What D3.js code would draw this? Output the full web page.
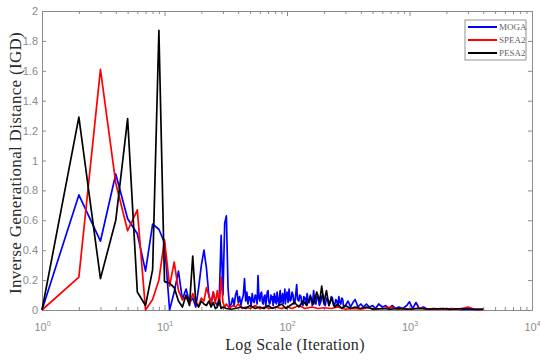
<!DOCTYPE html>
<html>
<head>
<meta charset="utf-8">
<script src="https://cdn.jsdelivr.net/npm/d3@7"></script>
<style>
body { margin: 0; background: #fff; }
svg { font-family: "Liberation Serif", "DejaVu Serif", serif; }
.axis path, .axis line { stroke: #8a8a8a; }
.axis text { fill: #8a8a8a; font-size: 11px; }
</style>
</head>
<body>
<svg id="chart" width="540" height="363"></svg>
<script>
// series names and legend colours
var seriesNames = ["MOGA", "SPEA2", "PESA2"];
var seriesColors = ["#0000ff", "#ff0000", "#000000"];

// [iteration, IGD]
var moga = [[1,0],[2,0.77],[3,0.46],[4,0.91],[5,0.61],[6,0.51],[7,0.26],[8,0.575],[9,0.54],[10,0.45],
 [11,0],[12,0.12],[13,0.26],[14,0.07],[15,0.14],[16,0.05],[17,0.08],[18,0.02],[19,0.15],[20,0.3],
 [21,0.4],[22,0.28],[23,0.1],[24,0.04],[25,0.12],[26,0.05],[27,0.03],[28,0.08],[29,0.5],[30,0.1],
 [31,0.58],[32,0.63],[33,0.15],[34,0.02],[35,0.04],[36,0.08],[37,0.03],[38,0.1],[39,0.13],[40,0.05],
 [41,0.09],[42,0.03],[43,0.07],[44,0.1],[45,0.21],[46,0.06],[47,0.12],[48,0.04],[49,0.09],[50,0.08],
 [51,0.03],[52,0.11],[53,0.06],[54,0.05],[55,0.1],[56,0.09],[57,0.04],[58,0.23],[59,0.08],[60,0.06],
 [61,0.11],[62,0.12],[63,0.05],[64,0.04],[65,0.09],[66,0.1],[67,0.03],[68,0.07],[69,0.12],[70,0.13],
 [71,0.06],[72,0.04],[73,0.05],[74,0.1],[75,0.07],[76,0.09],[77,0.03],[78,0.08],[79,0.11],[80,0.05],
 [81,0.09],[82,0.04],[83,0.12],[84,0.06],[85,0.08],[86,0.03],[87,0.1],[88,0.13],[89,0.05],[90,0.09],
 [91,0.06],[92,0.11],[93,0.04],[94,0.1],[95,0.07],[96,0.14],[97,0.04],[98,0.08],[99,0.1],[100,0.12],
 [102,0.05],[104,0.14],[106,0.06],[108,0.07],[110,0.12],[112,0.1],[114,0.04],[116,0.05],[118,0.11],[120,0.17],
 [122,0.07],[125,0.06],[127,0.1],[130,0.09],[132,0.04],[135,0.03],[137,0.09],[140,0.08],[143,0.04],[146,0.11],
 [149,0.06],[152,0.05],[155,0.1],[158,0.07],[161,0.03],[165,0.13],[168,0.06],[172,0.04],[176,0.09],[180,0.08],
 [184,0.03],[188,0.05],[192,0.09],[196,0.1],[200,0.04],[205,0.03],[210,0.08],[215,0.07],[220,0.03],[225,0.05],
 [230,0.09],[235,0.08],[240,0.03],[245,0.03],[250,0.07],[255,0.06],[260,0.02],[265,0.09],[270,0.05],[275,0.04],
 [280,0.08],[285,0.07],[290,0.02],[300,0.03],[315,0.06],[330,0.02],[345,0.05],[360,0.07],
 [380,0.02],[400,0.04],[420,0.02],[445,0.04],[470,0.02],[500,0.03],[530,0.01],[560,0.04],[600,0.02],[640,0.03],
 [680,0.01],[720,0.03],[770,0.01],[820,0.02],[880,0.01],[950,0.03],[1000,0.055],[1060,0.01],[1130,0.05],[1200,0.01],
 [1300,0.02],[1400,0.005],[1550,0.01],[1700,0.005],[1900,0.01],[2100,0.004],[2400,0.008],[2700,0.003],[3000,0.006],[3500,0.003],[4000,0.004]];

var spea2 = [[1,0],[2,0.22],[3,1.61],[4,0.85],[5,0.53],[6,0.67],[7,0],[8,0.07],[9,0.2],[10,0.47],
 [11,0.16],[12,0.32],[13,0.13],[14,0.07],[15,0.09],[16,0.04],[17,0.11],[18,0.05],[19,0.03],[20,0.08],
 [21,0.06],[22,0.15],[23,0.1],[24,0.04],[25,0.12],[26,0.05],[27,0.13],[28,0.03],[29,0.22],[30,0.05],
 [31,0.02],[32,0.04],[34,0.01],[36,0.03],[38,0.02],[40,0.04],[43,0.01],[46,0.02],[50,0.01],[55,0.03],
 [60,0.01],[66,0.02],[72,0.01],[80,0.02],[90,0.01],[100,0.02],[110,0.01],[125,0.03],[140,0.01],[160,0.02],
 [180,0.01],[200,0.015],[230,0.01],[260,0.02],[300,0.005],[350,0.01],[400,0.005],[460,0.015],[530,0.005],[600,0.01],
 [700,0.02],[800,0.005],[900,0.01],[1000,0.005],[1200,0.015],[1400,0.005],[1600,0.01],[1900,0.005],[2200,0.01],[2600,0.005],
 [3000,0.02],[3400,0.005],[4000,0.003]];

var pesa2 = [[1,0],[2,1.29],[3,0.21],[4,0.6],[5,1.28],[6,0.12],[7,0.03],[8,0.27],[9,1.87],[10,0.19],
 [11,0.18],[12,0.15],[13,0.06],[14,0.02],[15,0.1],[16,0.03],[17,0.36],[18,0.05],[19,0.02],[20,0.06],
 [21,0.04],[22,0.03],[23,0.06],[24,0.02],[25,0.05],[26,0.01],[27,0.02],[28,0.07],[29,0.01],[30,0.02],
 [32,0.01],[35,0.005],[38,0.01],[42,0.02],[46,0.01],[50,0.03],[55,0.01],[60,0.02],[65,0.01],[70,0.03],
 [76,0.01],[82,0.02],[90,0.04],[98,0.01],[106,0.03],[115,0.05],[125,0.02],[135,0.06],[145,0.03],[155,0.09],
 [165,0.04],[175,0.12],[185,0.06],[192,0.16],[200,0.05],[210,0.13],[220,0.03],[230,0.08],[245,0.02],[260,0.04],
 [280,0.01],[300,0.03],[330,0.01],[360,0.02],[400,0.01],[450,0.02],[500,0.005],[600,0.01],[700,0.005],[800,0.01],
 [1000,0.005],[1200,0.01],[1500,0.005],[1800,0.01],[2200,0.005],[2700,0.01],[3300,0.005],[4000,0.005]];

var yTicks = [0,0.2,0.4,0.6,0.8,1,1.2,1.4,1.6,1.8,2];
var xMajor = [1,10,100,1000,10000];

var svg = d3.select("#chart")
var padL = 42, padR = 532, padT = 11, padB = 310

var x = d3.scaleLog().domain([1, 1e4]).range([padL, padR])
var y = d3.scaleLinear().domain([0, 2]).range([padB, padT])

var xMinor = []
for (var d = 1; d < 1e4; d *= 10) for (var k = 2; k <= 9; k++) xMinor.push(d * k)

// minor ticks bottom/top
svg.append("g").attr("class","axis").attr("transform","translate(0,"+padB+")")
	.call(d3.axisBottom(x).tickValues(xMinor).tickSize(-3).tickSizeOuter(0).tickFormat(""))
svg.append("g").attr("class","axis").attr("transform","translate(0,"+padT+")")
	.call(d3.axisTop(x).tickValues(xMinor).tickSize(-3).tickSizeOuter(0).tickFormat(""))

// major ticks with 10^n labels
var xa = svg.append("g").attr("class","axis").attr("transform","translate(0,"+padB+")")
	.call(d3.axisBottom(x).tickValues(xMajor).tickSize(-5).tickSizeOuter(0).tickPadding(13).tickFormat(""))
xa.selectAll(".tick text").each(function(v){
	var t = d3.select(this)
	t.append("tspan").text("10")
	t.append("tspan").attr("dy","-5").attr("font-size","7px").text(Math.round(Math.log10(v)))
})
svg.append("g").attr("class","axis").attr("transform","translate(0,"+padT+")")
	.call(d3.axisTop(x).tickValues(xMajor).tickSize(-5).tickSizeOuter(0).tickFormat(""))

svg.append("g").attr("class","axis").attr("transform","translate("+padL+",0)")
	.call(d3.axisLeft(y).tickValues(yTicks).tickSize(-4).tickSizeOuter(0).tickPadding(4).tickFormat(d3.format("")))
svg.append("g").attr("class","axis").attr("transform","translate("+padR+",0)")
	.call(d3.axisRight(y).tickValues(yTicks).tickSize(-4).tickSizeOuter(0).tickFormat(""))

var line = d3.line().x(d => x(d[0])).y(d => y(d[1]))

;[moga, spea2, pesa2].forEach(function(s, i){
	svg.append("path").datum(s).attr("d", line)
		.attr("fill","none").attr("stroke", seriesColors[i])
		.attr("stroke-width", 1.7).attr("stroke-linejoin","round")
})

// axis titles
svg.append("text").attr("x", 295).attr("y", 350).attr("text-anchor","middle")
	.attr("font-size","16px").attr("letter-spacing","0.3px").attr("fill","#2a2a2a").text("Log Scale (Iteration)")
svg.append("text").attr("transform","translate(21,"+ 163 +") rotate(-90)")
	.attr("text-anchor","middle").attr("font-size","17px").attr("letter-spacing","0.3px").attr("fill","#2a2a2a")
	.text("Inverse Generational Distance (IGD)")

// legend
var lg = svg.append("g").attr("transform","translate(465,20)")
lg.append("rect").attr("width",61).attr("height",40).attr("fill","#fff").attr("stroke","#777").attr("stroke-width",0.8)
seriesNames.forEach(function(n, i){
	var yy = 7 + i*13
	lg.append("line").attr("x1",3).attr("x2",32).attr("y1",yy).attr("y2",yy)
		.attr("stroke",seriesColors[i]).attr("stroke-width",2)
	lg.append("text").attr("x",34).attr("y",yy+3).attr("font-size","9px").attr("fill","#666").text(n)
})
</script>
</body>
</html>
